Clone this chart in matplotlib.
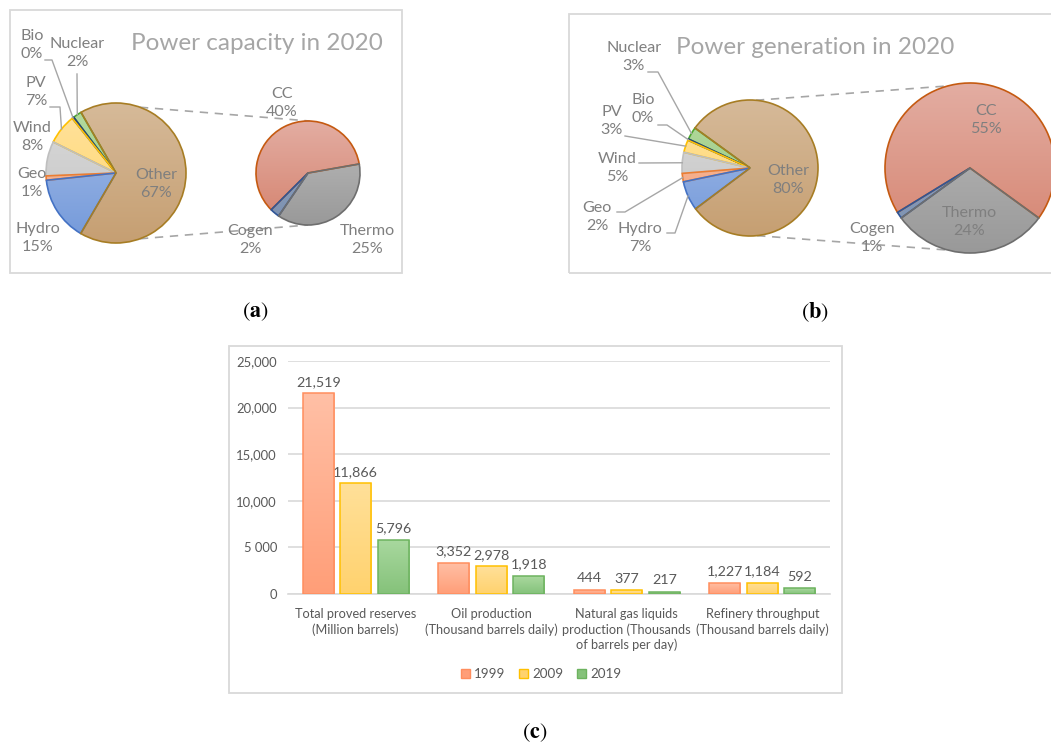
import numpy as np
import matplotlib
matplotlib.use("Agg")
import matplotlib.pyplot as plt
from matplotlib.patches import Rectangle, Patch
from matplotlib.colors import LinearSegmentedColormap

# ---------------- data ----------------
src_labels = ['Nuclear', 'Bio', 'PV', 'Wind', 'Geo', 'Hydro', 'Other']
cap_values = [2, 0.4, 7, 8, 1, 15, 67]
gen_values = [3, 0.3, 3, 5, 2, 7, 80]

other_labels = ['CC', 'Cogen', 'Thermo']
cap_other_values = [40, 2, 25]
gen_other_values = [55, 1, 24]

categories = ['Total proved reserves\n(Million barrels)',
              'Oil production\n(Thousand barrels daily)',
              'Natural gas liquids\nproduction (Thousands\nof barrels per day)',
              'Refinery throughput\n(Thousand barrels daily)']
years = ['1999', '2009', '2019']
v1999 = [21519, 3352, 444, 1227]
v2009 = [11866, 2978, 377, 1184]
v2019 = [5796, 1918, 217, 592]
yticks = [0, 5000, 10000, 15000, 20000, 25000]
ytick_labels = ['0', '5 000', '10,000', '15,000', '20,000', '25,000']

# ---------------- styles ----------------
FONT = 'Lato'
W, H = 1051, 746
src_fill = {'Nuclear': ('#B5DBA0', '#95C67C'), 'Bio': ('#8DA9DB', '#6F8FC8'),
            'PV': ('#FFE3A0', '#FFD466'), 'Wind': ('#DADADA', '#C4C4C4'),
            'Geo': ('#F9BFA2', '#F4A27A'), 'Hydro': ('#A8BFE8', '#7399DA'),
            'Other': ('#D6BA99', '#C69F72'),
            'CC': ('#E3ADA2', '#D5836F'), 'Cogen': ('#9AAAC4', '#7A8FAF'),
            'Thermo': ('#BDBDBD', '#999999')}
src_edge = {'Nuclear': '#4EA72E', 'Bio': '#264478', 'PV': '#FFC000', 'Wind': '#BFBFBF',
            'Geo': '#ED7D31', 'Hydro': '#4472C4', 'Other': '#A77D24',
            'CC': '#C55A11', 'Cogen': '#2F5597', 'Thermo': '#6E6E6E'}
bar_fill = [('#FFC0A6', '#FF9E78'), ('#FFE099', '#FFD26E'), ('#A9D89F', '#85C27A')]
bar_edge = ['#FF8E5E', '#FFC000', '#6DB35F']
TXT = '#7F7F7F'

fig = plt.figure(figsize=(W / 100, H / 100), dpi=100)
ov = fig.add_axes([0, 0, 1, 1])
ov.set_xlim(0, W)
ov.set_ylim(0, H)
ov.axis('off')


def Y(y):
    return H - y


def shade(ax, patch, ctop, cbot, ext, z):
    grad = np.linspace(0, 1, 256).reshape(-1, 1)
    cmap = LinearSegmentedColormap.from_list('g', [ctop, cbot])
    im = ax.imshow(grad, extent=ext, origin='upper', cmap=cmap, aspect='auto',
                   zorder=z, interpolation='bilinear')
    im.set_clip_path(patch)


def draw_pie(values, labels, cx, cy, r, start):
    wedges, _ = ov.pie(values, center=(cx, Y(cy)), radius=r, startangle=start,
                       counterclock=True, frame=True)
    for w, lab in zip(wedges, labels):
        w.set_facecolor('none')
        w.set_edgecolor(src_edge[lab])
        w.set_linewidth(1.2)
        w.set_zorder(4)
        shade(ov, w, src_fill[lab][0], src_fill[lab][1],
              [cx - r, cx + r, Y(cy) - r, Y(cy) + r], 3)
    return wedges


def anchor(w, cx, cy, r):
    a = np.deg2rad((w.theta1 + w.theta2) / 2)
    return cx + r * np.cos(a), cy - r * np.sin(a)


def pct(v):
    return f"{round(v):.0f}%"


def lab(x, y, txt, fs=11.6, color=TXT):
    ov.text(x, Y(y), txt, ha='center', va='center', fontsize=fs, color=color,
            family=FONT, linespacing=1.38, zorder=6)


def leader(pts, end):
    xs = [p[0] for p in pts] + [end[0]]
    ys = [Y(p[1]) for p in pts] + [Y(end[1])]
    ov.plot(xs, ys, color='#A6A6A6', lw=1.0, zorder=5)


def connector(c1, r1, a1, c2, r2, a2):
    p1 = (c1[0] + r1 * np.cos(np.deg2rad(a1)), Y(c1[1]) + r1 * np.sin(np.deg2rad(a1)))
    p2 = (c2[0] + r2 * np.cos(np.deg2rad(a2)), Y(c2[1]) + r2 * np.sin(np.deg2rad(a2)))
    ov.plot([p1[0], p2[0]], [p1[1], p2[1]], color='#A6A6A6', lw=1.2,
            ls=(0, (5, 4)), zorder=2)


# panel boxes
for (x0, y0, x1, y1) in [(10, 10, 402, 273), (569, 14, 1070, 273), (229, 346, 842, 693)]:
    ov.add_patch(Rectangle((x0, Y(y1)), x1 - x0, y1 - y0, fill=False,
                           edgecolor='#D9D9D9', lw=1.3, zorder=1))

# ---------------- panel (a) ----------------
ca, ra = (116, 173), 70
sa, rsa = (308, 173), 52
wa = draw_pie(cap_values, src_labels, ca[0], ca[1], ra, 120)
wsa = draw_pie(cap_other_values, other_labels, sa[0], sa[1], rsa, 10)
connector(ca, ra, 70, sa, rsa, 88)
connector(ca, ra, -70, sa, rsa, -90)
ov.text(257, Y(43), 'Power capacity in 2020', ha='center', va='center',
        fontsize=17.5, color='#A6A6A6', family=FONT)
pos_a = {'Nuclear': (77, 53), 'Bio': (32, 45), 'PV': (36, 92), 'Wind': (32, 137),
         'Geo': (32, 183), 'Hydro': (38, 238), 'Other': (156, 184)}
for name, v in zip(src_labels, cap_values):
    lab(*pos_a[name], f"{name}\n{pct(v)}")
pos_sa = {'CC': (282, 103), 'Cogen': (250, 240), 'Thermo': (367, 240)}
for name, v in zip(other_labels, cap_other_values):
    lab(*pos_sa[name], f"{name}\n{pct(v)}")
leader([(77, 74)], anchor(wa[0], ca[0], ca[1], ra))
leader([(45, 60), (52, 60)], anchor(wa[1], ca[0], ca[1], ra))
leader([(50, 107), (60, 107)], anchor(wa[2], ca[0], ca[1], ra))

# ---------------- panel (b) ----------------
cb, rb = (750, 168), 68
sb, rsb = (970, 168), 85
wb = draw_pie(gen_values, src_labels, cb[0], cb[1], rb, 144)
wsb = draw_pie(gen_other_values, other_labels, sb[0], sb[1], rsb, -36)
connector(cb, rb, 85, sb, rsb, 105)
connector(cb, rb, -84, sb, rsb, -105)
ov.text(815, Y(47), 'Power generation in 2020', ha='center', va='center',
        fontsize=17.5, color='#A6A6A6', family=FONT)
pos_b = {'Nuclear': (634, 57), 'Bio': (643, 109), 'PV': (612, 121), 'Wind': (617, 168),
         'Geo': (597, 217), 'Hydro': (640, 238), 'Other': (788, 180)}
for name, v in zip(src_labels, gen_values):
    lab(*pos_b[name], f"{name}\n{pct(v)}")
pos_sb = {'CC': (986, 120), 'Cogen': (872, 238), 'Thermo': (969, 222)}
for name, v in zip(other_labels, gen_other_values):
    lab(*pos_sb[name], f"{name}\n{pct(v)}")
leader([(648, 72), (658, 72)], anchor(wb[0], cb[0], cb[1], rb))
leader([(658, 125), (667, 125)], anchor(wb[1], cb[0], cb[1], rb))
leader([(625, 136)], anchor(wb[2], cb[0], cb[1], rb))
leader([(639, 163)], anchor(wb[3], cb[0], cb[1], rb))
leader([(617, 212), (625, 212)], anchor(wb[4], cb[0], cb[1], rb))
leader([(667, 233), (675, 233)], anchor(wb[5], cb[0], cb[1], rb))

ov.set_xlim(0, W)
ov.set_ylim(0, H)

# ---------------- panel (c) ----------------
bx = fig.add_axes([288 / W, (H - 594) / H, 542 / W, 233 / H])
bx.set_xlim(-0.5, 3.5)
bx.set_ylim(0, 25000)
x = np.arange(len(categories))
step, bw = 0.277, 0.229
for i, (vals, yr) in enumerate(zip([v1999, v2009, v2019], years)):
    bars = bx.bar(x + (i - 1) * step, vals, width=bw, facecolor='none',
                  edgecolor=bar_edge[i], lw=1.1, zorder=4, label=yr)
    for b in bars:
        shade(bx, b, bar_fill[i][0], bar_fill[i][1],
              [b.get_x(), b.get_x() + b.get_width(), 0, b.get_height()], 3)
    bx.bar_label(bars, labels=[f"{v:,}" for v in vals], padding=4,
                 fontsize=10.3, color='#595959', family=FONT)
bx.set_xlim(-0.5, 3.5)
bx.set_ylim(0, 25000)
bx.set_yticks(yticks)
bx.set_yticklabels(ytick_labels)
bx.set_xticks(x)
bx.set_xticklabels(categories, linespacing=1.3)
bx.tick_params(axis='both', length=0, colors='#595959')
bx.tick_params(axis='y', pad=8, labelsize=9.4)
bx.tick_params(axis='x', pad=10, labelsize=9.2)
for t in bx.get_xticklabels() + bx.get_yticklabels():
    t.set_family(FONT)
bx.grid(axis='y', color='#D9D9D9', lw=1.2, zorder=0)
for s in ['top', 'right', 'left']:
    bx.spines[s].set_visible(False)
bx.spines['bottom'].set_color('#D9D9D9')
bx.spines['bottom'].set_linewidth(1.2)
bx.patch.set_alpha(0)
handles = [Patch(facecolor=bar_fill[i][1], edgecolor=bar_edge[i], lw=1) for i in range(3)]
fig.legend(handles, years, loc='center', bbox_to_anchor=(541 / W, Y(674) / H),
           ncol=3, frameon=False, handlelength=0.7, handleheight=0.7,
           handletextpad=0.3, columnspacing=1.0,
           prop={'family': FONT, 'size': 9.6}, labelcolor='#595959')

# ---------------- panel letters ----------------
plt.rcParams['mathtext.fontset'] = 'stix'
for (px, py, l) in [(255, 312, 'a'), (815, 312, 'b'), (535, 733, 'c')]:
    ov.text(px, Y(py), r'$(\mathbf{' + l + '})$', ha='center', va='center',
            fontsize=16, color='black')

fig.savefig('out.png', dpi=100)
